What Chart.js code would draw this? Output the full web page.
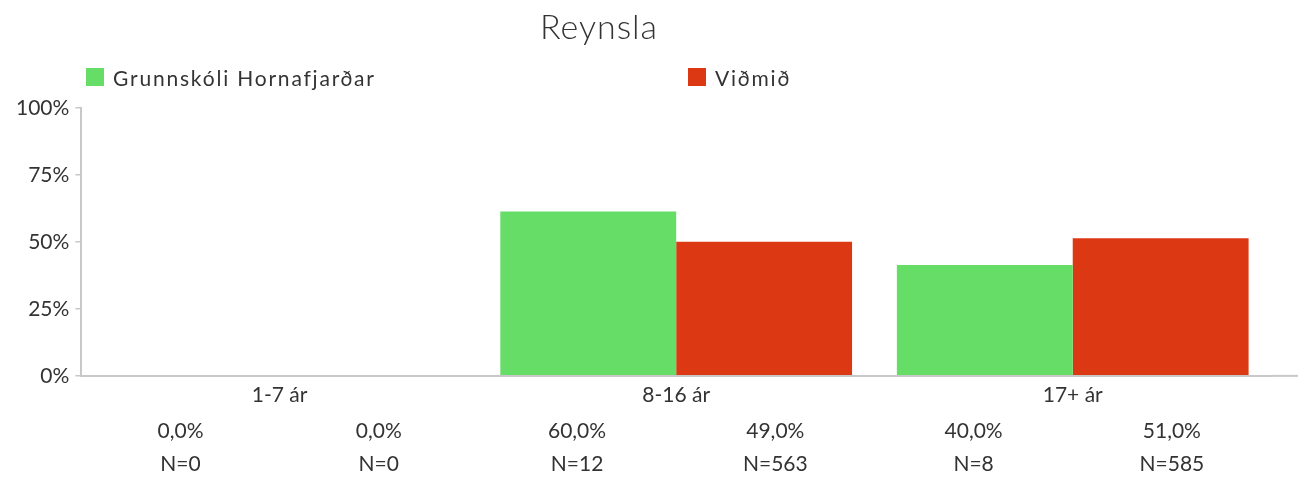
<!DOCTYPE html>
<html>
<head>
<meta charset="utf-8">
<script src="https://cdn.jsdelivr.net/npm/chart.js@4/dist/chart.umd.min.js"></script>
<style>
  html, body { margin: 0; padding: 0; background: #fff; }
  #wrap { position: relative; width: 1304px; height: 482px; }
  #title { position: absolute; top: 5px; left: 499px; width: 200px; text-align: center;
           font-family: Lato, sans-serif; font-weight: 300; font-size: 34px; letter-spacing: 1px; color: #333; }
  #legend { position: absolute; top: 65px; left: 0; width: 1304px; height: 24px;
            font-family: Lato, sans-serif; font-size: 21px; letter-spacing: 1.8px; color: #333; }
  .item { position: absolute; top: 0; display: flex; align-items: center; height: 24px; }
  .box { width: 18px; height: 18px; margin-right: 9px; }
</style>
</head>
<body>
<div id="wrap">
  <canvas id="myChart" width="1304" height="482"></canvas>
  <div id="title">Reynsla</div>
  <div id="legend"></div>
</div>
<script>
// data
const categories = ['1-7 ár', '8-16 ár', '17+ ár'];
const seriesNames = ['Grunnskóli Hornafjarðar', 'Viðmið'];
const schoolValues = [0, 61.4, 41.4];
const refValues = [0, 50.1, 51.4];
const percentLabels = ['0,0%', '0,0%', '60,0%', '49,0%', '40,0%', '51,0%'];
const countLabels = ['N=0', 'N=0', 'N=12', 'N=563', 'N=8', 'N=585'];
const colors = ['#66dd66', '#dd3814'];
const legendLeft = [86, 688];

const fontFamily = 'Lato, "Open Sans", sans-serif';
const textColor = '#333';
const axisGray = '#c8c8c8';

// keep the baseline running on past the last category, like the original
const baselinePlugin = {
    id: 'baseline',
    beforeDatasetsDraw(chart) {
        const ctx = chart.ctx;
        const y = chart.scales.y.getPixelForValue(0);
        ctx.save();
        ctx.strokeStyle = axisGray;
        ctx.lineWidth = 2;
        ctx.beginPath();
        ctx.moveTo(chart.chartArea.right, y);
        ctx.lineTo(1298, y);
        ctx.stroke();
        ctx.restore();
    }
};

const ctx = document.getElementById('myChart').getContext('2d');
const myChart = new Chart(ctx, {
    type: 'bar',
    data: {
        labels: categories,
        datasets: [{
            label: seriesNames[0],
            data: schoolValues,
            backgroundColor: colors[0],
            barPercentage: 1,
            categoryPercentage: 0.887
        }, {
            label: seriesNames[1],
            data: refValues,
            backgroundColor: colors[1],
            barPercentage: 1,
            categoryPercentage: 0.887
        }]
    },
    options: {
        responsive: false,
        animation: false,
        layout: { padding: { top: 108, left: 10, right: 33, bottom: 1 } },
        plugins: {
            legend: { display: false },
            tooltip: { enabled: false },
            title: { display: false }
        },
        scales: {
            y: {
                min: 0,
                max: 100,
                ticks: {
                    stepSize: 25,
                    padding: 6,
                    color: textColor,
                    font: { family: fontFamily, size: 21 },
                    callback: v => v + '%'
                },
                grid: { drawOnChartArea: false, tickLength: 6, color: axisGray, lineWidth: 1.5 },
                border: { color: axisGray, width: 2 }
            },
            x: {
                weight: 0,
                grid: { display: false, drawTicks: false },
                border: { color: axisGray, width: 2 },
                ticks: {
                    padding: 7,
                    color: textColor,
                    font: { family: fontFamily, size: 21 }
                }
            },
            x2: {
                type: 'category',
                position: 'bottom',
                weight: 1,
                labels: percentLabels.map((p, i) => [p, countLabels[i]]),
                grid: { display: false, drawTicks: false },
                border: { display: false },
                ticks: {
                    padding: 0,
                    color: textColor,
                    font: { family: fontFamily, size: 21, lineHeight: 1.57 }
                }
            }
        }
    },
    plugins: [baselinePlugin]
});

// legend as html so the two entries can sit where the original has them
const legend = document.getElementById('legend');
myChart.data.datasets.forEach((ds, i) => {
    const item = document.createElement('div');
    item.className = 'item';
    item.style.left = legendLeft[i] + 'px';
    const box = document.createElement('span');
    box.className = 'box';
    box.style.background = ds.backgroundColor;
    const label = document.createElement('span');
    label.textContent = ds.label;
    item.appendChild(box);
    item.appendChild(label);
    legend.appendChild(item);
});
</script>
</body>
</html>
